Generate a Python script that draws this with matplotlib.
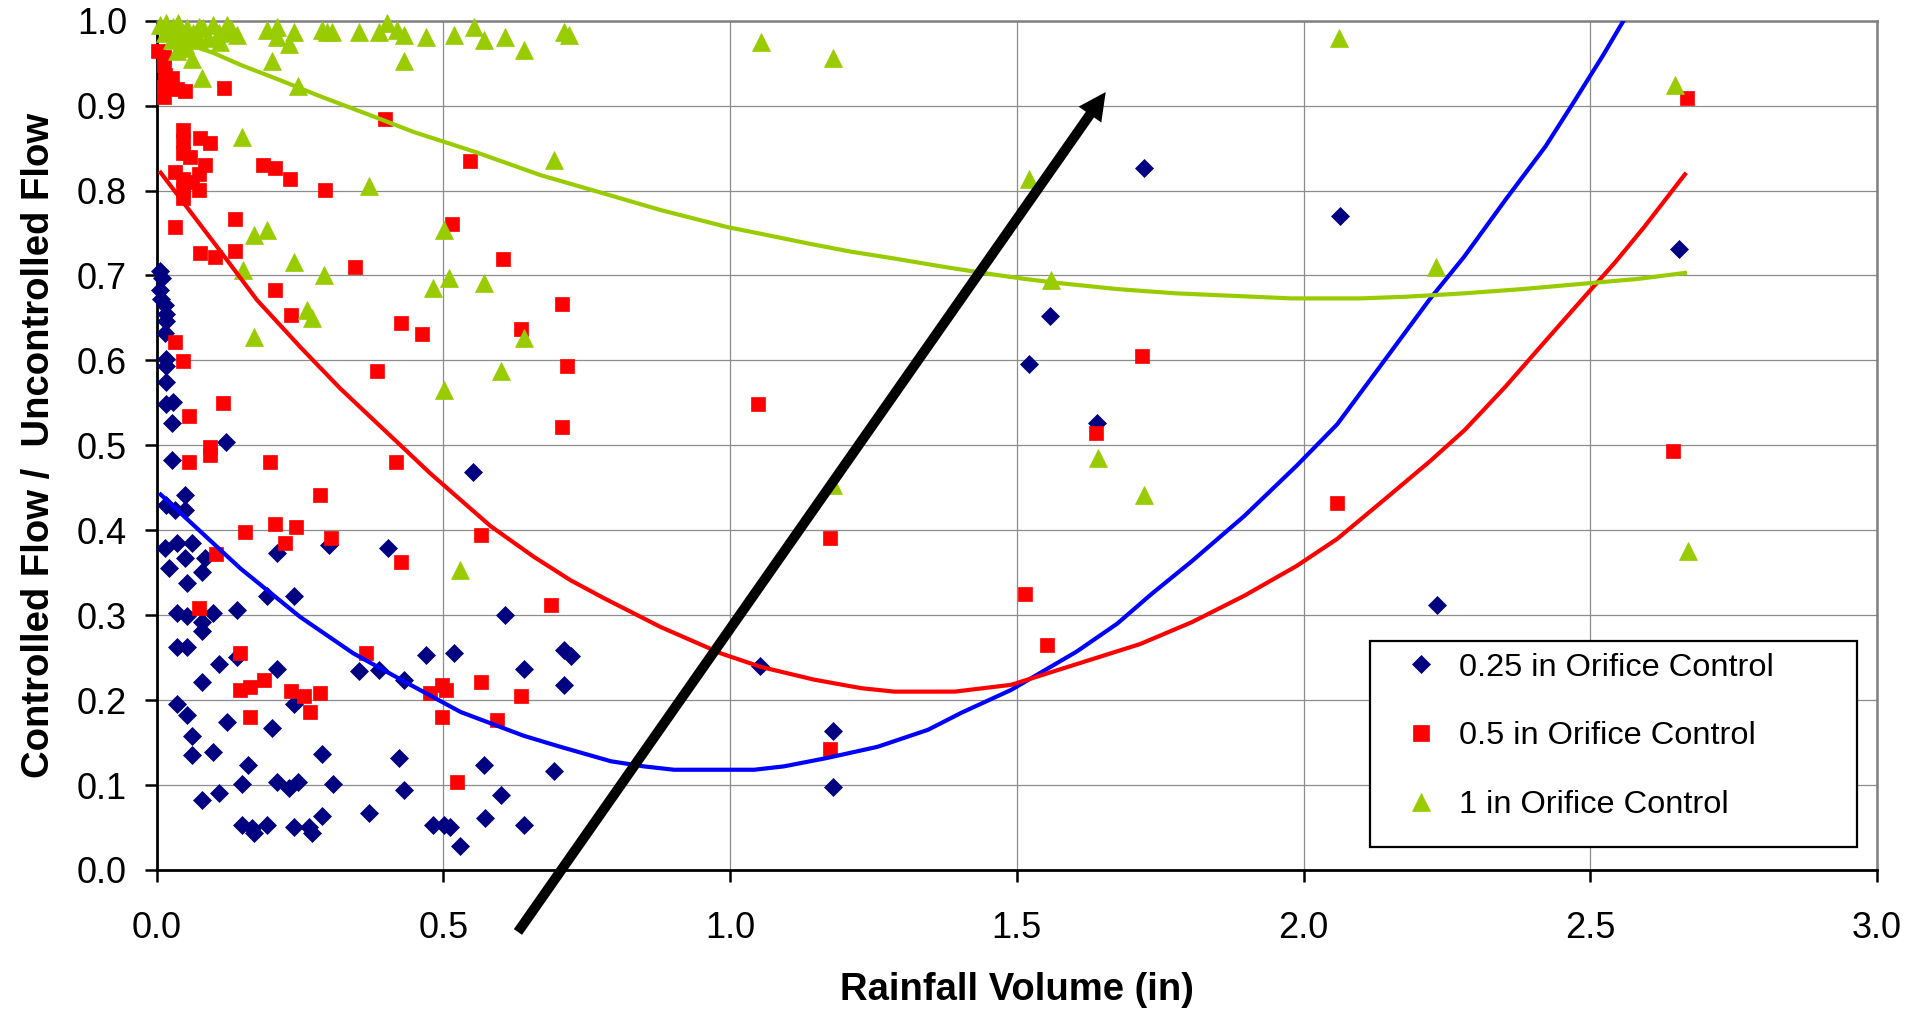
import numpy as np
import matplotlib.pyplot as plt
from matplotlib.lines import Line2D
from matplotlib.patches import Rectangle

plt.rcParams['font.family'] = ['Liberation Sans', 'DejaVu Sans']

# observed flow ratios, 0.25 in orifice
x_025 = [0.006, 0.010, 0.005, 0.007, 0.014, 0.017, 0.017, 0.014, 0.017, 0.017, 0.017, 0.017,
         0.029, 0.026, 0.027, 0.121, 0.049, 0.017, 0.032, 0.049, 0.014, 0.035, 0.061, 0.049,
         0.022, 0.084, 0.079, 0.210, 0.300, 0.403, 0.552, 0.052, 0.035, 0.052, 0.099, 0.079,
         0.079, 0.140, 0.192, 0.239, 0.035, 0.052, 0.140, 0.108, 0.079, 0.210, 0.352, 0.388,
         0.431, 0.035, 0.052, 0.239, 0.122, 0.201, 0.061, 0.061, 0.099, 0.288, 0.159, 0.148,
         0.210, 0.230, 0.247, 0.308, 0.079, 0.108, 0.370, 0.148, 0.166, 0.169, 0.192, 0.239,
         0.265, 0.271, 0.288, 0.469, 0.519, 0.608, 0.710, 0.722, 0.641, 0.711, 0.422, 0.570,
         0.693, 0.431, 0.600, 0.482, 0.501, 0.512, 0.572, 0.641, 0.529, 1.052, 1.180, 1.180,
         1.722, 2.064, 2.654, 1.557, 1.521, 1.640, 2.232]
y_025 = [0.705, 0.697, 0.683, 0.672, 0.665, 0.655, 0.646, 0.632, 0.602, 0.593, 0.575, 0.549,
         0.551, 0.526, 0.483, 0.504, 0.441, 0.430, 0.424, 0.424, 0.379, 0.385, 0.385, 0.367,
         0.355, 0.367, 0.351, 0.373, 0.383, 0.379, 0.468, 0.338, 0.303, 0.299, 0.303, 0.292,
         0.281, 0.306, 0.322, 0.323, 0.262, 0.262, 0.251, 0.243, 0.221, 0.237, 0.234, 0.236,
         0.224, 0.196, 0.183, 0.196, 0.174, 0.167, 0.158, 0.135, 0.139, 0.137, 0.124, 0.101,
         0.104, 0.096, 0.104, 0.101, 0.082, 0.091, 0.067, 0.053, 0.049, 0.043, 0.053, 0.051,
         0.051, 0.043, 0.063, 0.253, 0.256, 0.300, 0.259, 0.252, 0.237, 0.218, 0.132, 0.124,
         0.117, 0.094, 0.088, 0.053, 0.053, 0.050, 0.061, 0.053, 0.028, 0.240, 0.164, 0.098,
         0.826, 0.770, 0.731, 0.652, 0.596, 0.526, 0.312]

# 0.5 in orifice
x_05 = [0.003, 0.012, 0.012, 0.014, 0.027, 0.012, 0.035, 0.049, 0.012, 0.117,
        0.046, 0.046, 0.076, 0.093, 0.046, 0.058, 0.084, 0.032, 0.186, 0.207, 0.233, 0.294,
        0.046, 0.073, 0.061, 0.073, 0.046, 0.046, 0.032, 0.136, 0.076, 0.102, 0.136, 0.346,
        0.206, 0.398, 0.547, 0.515, 0.604, 0.707, 0.636, 0.716, 0.384, 0.235, 0.426, 0.463,
        0.032, 0.046, 0.116, 0.056, 0.707, 0.093, 0.056, 0.093, 0.197, 0.417, 0.285, 0.154,
        0.207, 0.243, 0.224, 0.304, 0.103, 0.426, 0.074, 0.566, 0.688, 0.365, 0.145, 0.145,
        0.163, 0.187, 0.234, 0.257, 0.285, 0.267, 0.163, 0.477, 0.498, 0.505, 0.497, 0.566,
        0.636, 0.594, 0.524, 1.048, 1.175, 1.175, 1.515, 1.553, 1.638, 1.718, 2.059, 2.645,
        2.668]
y_05 = [0.964, 0.957, 0.948, 0.936, 0.932, 0.922, 0.920, 0.917, 0.910, 0.921,
        0.871, 0.858, 0.862, 0.856, 0.844, 0.840, 0.830, 0.822, 0.830, 0.826, 0.814, 0.801,
        0.814, 0.820, 0.810, 0.801, 0.801, 0.791, 0.757, 0.767, 0.726, 0.722, 0.729, 0.710,
        0.683, 0.884, 0.835, 0.761, 0.719, 0.666, 0.637, 0.593, 0.587, 0.654, 0.644, 0.631,
        0.622, 0.599, 0.550, 0.534, 0.522, 0.498, 0.480, 0.489, 0.480, 0.480, 0.442, 0.398,
        0.407, 0.404, 0.385, 0.391, 0.372, 0.363, 0.309, 0.394, 0.312, 0.256, 0.255, 0.212,
        0.215, 0.224, 0.211, 0.205, 0.208, 0.186, 0.180, 0.208, 0.218, 0.212, 0.180, 0.221,
        0.205, 0.177, 0.104, 0.549, 0.391, 0.143, 0.325, 0.265, 0.514, 0.605, 0.432, 0.493,
        0.909]

# 1 in orifice
x_1 = [0.006, 0.017, 0.029, 0.038, 0.052, 0.064, 0.073, 0.081, 0.099, 0.108, 0.122, 0.122,
       0.140, 0.192, 0.210, 0.210, 0.239, 0.230, 0.288, 0.297, 0.306, 0.352, 0.387, 0.402,
       0.419, 0.431, 0.469, 0.518, 0.553, 0.570, 0.608, 0.640, 0.710, 0.719,
       0.038, 0.049, 0.044, 0.035, 0.026, 0.073, 0.015, 0.090, 0.060, 0.110, 0.130,
       0.201, 0.431, 0.061, 0.079, 0.247,
       0.148, 0.370, 0.693, 0.169, 0.192, 0.239, 0.150, 0.291, 0.501, 0.509, 0.570, 0.482,
       0.262, 0.271, 0.169, 0.640, 0.600, 0.501, 0.529,
       1.054, 1.180, 1.180, 1.521, 1.559, 1.642, 1.721, 2.062, 2.231, 2.647, 2.671]
y_1 = [0.995, 0.997, 0.993, 0.997, 0.991, 0.985, 0.993, 0.991, 0.995, 0.985, 0.995, 0.987,
       0.983, 0.989, 0.993, 0.981, 0.987, 0.973, 0.989, 0.987, 0.987, 0.987, 0.987, 0.997,
       0.989, 0.983, 0.981, 0.983, 0.993, 0.977, 0.981, 0.966, 0.987, 0.983,
       0.983, 0.973, 0.968, 0.964, 0.977, 0.977, 0.985, 0.980, 0.980, 0.975, 0.990,
       0.952, 0.952, 0.955, 0.933, 0.923,
       0.863, 0.805, 0.836, 0.748, 0.754, 0.716, 0.707, 0.701, 0.754, 0.697, 0.691, 0.685,
       0.659, 0.650, 0.628, 0.626, 0.587, 0.565, 0.353,
       0.975, 0.956, 0.453, 0.813, 0.695, 0.485, 0.441, 0.980, 0.710, 0.924, 0.375]

# trend curves
fit_025_x = [0.007, 0.058, 0.146, 0.250, 0.343, 0.437, 0.530, 0.640, 0.704, 0.792, 0.849, 0.902,
             1.042, 1.094, 1.170, 1.257, 1.345, 1.403, 1.490, 1.604, 1.675, 1.735, 1.806, 1.897,
             1.988, 2.059, 2.139, 2.220, 2.280, 2.352, 2.422, 2.473, 2.523, 2.558]
fit_025_y = [0.442, 0.410, 0.355, 0.298, 0.255, 0.220, 0.186, 0.158, 0.145, 0.128, 0.122, 0.118,
             0.118, 0.122, 0.132, 0.145, 0.165, 0.185, 0.212, 0.257, 0.290, 0.325, 0.364, 0.417,
             0.476, 0.525, 0.598, 0.672, 0.722, 0.789, 0.852, 0.906, 0.960, 1.000]

fit_05_x = [0.007, 0.052, 0.105, 0.175, 0.250, 0.320, 0.378, 0.430, 0.477, 0.582, 0.657, 0.722,
            0.780, 0.879, 0.984, 1.054, 1.147, 1.229, 1.286, 1.392, 1.490, 1.715, 1.806, 1.897,
            1.988, 2.059, 2.139, 2.220, 2.281, 2.352, 2.422, 2.473, 2.544, 2.594, 2.665]
fit_05_y = [0.821, 0.781, 0.734, 0.671, 0.616, 0.567, 0.530, 0.497, 0.467, 0.405, 0.369, 0.341,
            0.320, 0.286, 0.255, 0.239, 0.224, 0.214, 0.210, 0.210, 0.218, 0.266, 0.292, 0.323,
            0.358, 0.390, 0.435, 0.481, 0.518, 0.569, 0.623, 0.662, 0.716, 0.757, 0.819]

fit_1_x = [0.010, 0.047, 0.099, 0.146, 0.215, 0.285, 0.379, 0.448, 0.553, 0.670, 0.757, 0.879,
           0.995, 1.054, 1.141, 1.211, 1.286, 1.374, 1.461, 1.513, 1.574, 1.675, 1.776, 1.877,
           1.978, 2.099, 2.180, 2.281, 2.382, 2.483, 2.584, 2.665]
fit_1_y = [0.985, 0.974, 0.962, 0.948, 0.930, 0.911, 0.887, 0.869, 0.846, 0.818, 0.801, 0.777,
           0.757, 0.749, 0.737, 0.728, 0.720, 0.710, 0.701, 0.696, 0.691, 0.684, 0.679, 0.676,
           0.673, 0.673, 0.675, 0.679, 0.684, 0.690, 0.696, 0.703]

labels = ['0.25 in Orifice Control', '0.5 in Orifice Control', '1 in Orifice Control']
x_ticks = np.arange(0, 3.01, 0.5)
y_ticks = np.arange(0, 1.01, 0.1)

navy, red, green = '#000080', '#FF0000', '#99CC00'

fig = plt.figure(figsize=(19.11, 10.09), dpi=100)
ax = fig.add_axes([0.082, 0.1378, 0.9002, 0.8417])

ax.plot(x_025, y_025, ls='none', marker='D', ms=9.0, mfc=navy, mec=navy, mew=0.5,
        zorder=3, clip_on=False)
ax.plot(x_05, y_05, ls='none', marker='s', ms=10.3, mfc=red, mec=red, mew=0.5,
        zorder=3, clip_on=False)
ax.plot(x_1, y_1, ls='none', marker='^', ms=13, mfc=green, mec=green, mew=0.5,
        zorder=3, clip_on=False)

ax.plot(fit_025_x, fit_025_y, color='#0000FF', lw=3.0, zorder=4)
ax.plot(fit_05_x, fit_05_y, color=red, lw=3.0, zorder=4)
ax.plot(fit_1_x, fit_1_y, color=green, lw=3.0, zorder=4)

ax.set_xlim(0, 3)
ax.set_ylim(0, 1)
ax.set_xticks(x_ticks)
ax.set_yticks(y_ticks)
ax.set_xticklabels([f'{v:.1f}' for v in x_ticks])
ax.set_yticklabels([f'{v:.1f}' for v in y_ticks])
ax.tick_params(axis='both', direction='out', length=8.4, width=1.8, labelsize=26)
ax.tick_params(axis='x', pad=21)
ax.tick_params(axis='y', pad=13)

ax.set_axisbelow(True)
ax.grid(True, color='#8c8c8c', lw=0.9)
for side in ('left', 'bottom'):
    ax.spines[side].set_color('black')
    ax.spines[side].set_linewidth(2.0)
for side in ('top', 'right'):
    ax.spines[side].set_color('#808080')
    ax.spines[side].set_linewidth(1.8)

ax.set_xlabel('Rainfall Volume (in)', fontsize=27.5, fontweight='bold', labelpad=19)
ax.set_ylabel('Controlled Flow /  Uncontrolled Flow', fontsize=27.5, fontweight='bold',
              labelpad=14)

# legend box
ax.add_patch(Rectangle((0.7053, 0.0267), 0.2831, 0.2429, transform=ax.transAxes,
                       facecolor='white', edgecolor='black', lw=1.6, zorder=6))
handles = [
    Line2D([], [], ls='none', marker='D', ms=9.5, mfc=navy, mec=navy, mew=0.5),
    Line2D([], [], ls='none', marker='s', ms=11, mfc=red, mec=red, mew=0.5),
    Line2D([], [], ls='none', marker='^', ms=13, mfc=green, mec=green, mew=0.5),
]
leg = ax.legend(handles, labels, loc='upper left', bbox_to_anchor=(0.7253, 0.2559),
                frameon=False, fontsize=23.4, borderpad=0, borderaxespad=0,
                handlelength=1.0, handletextpad=0.69, labelspacing=1.19)
leg.set_zorder(7)

# trend arrow
ax.annotate('', xy=(1.655, 0.916), xytext=(0.630, -0.073),
            arrowprops=dict(arrowstyle='simple,head_length=1.98,head_width=1.99,tail_width=0.72',
                            mutation_scale=10, color='black', lw=0, shrinkA=0, shrinkB=0),
            annotation_clip=False, zorder=8)

fig.savefig('out.png', dpi=100)
